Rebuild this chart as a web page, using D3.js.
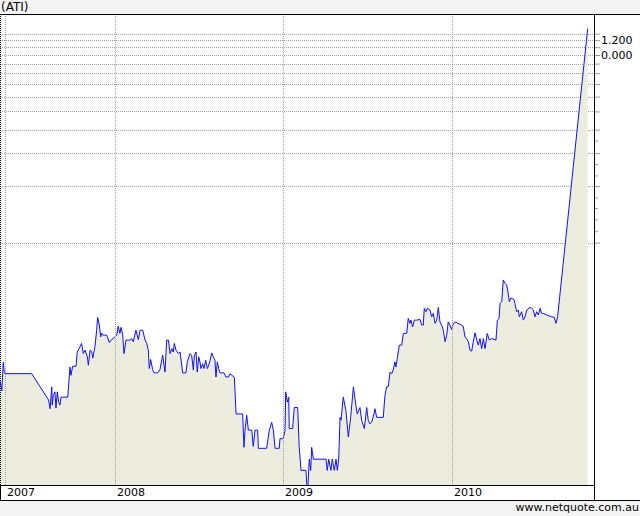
<!DOCTYPE html>
<html><head><meta charset="utf-8">
<script src="https://cdn.jsdelivr.net/npm/d3@7"></script>
<style>html,body{margin:0;padding:0;background:#f4f4f4;}svg{display:block;}</style>
</head><body>
<svg id="c" width="640" height="516"></svg>
<script>
const title = "(ATI)";
const credit = "www.netquote.com.au";
const xTickValues = [2007.35, 2008, 2009, 2010];
const xTickLabels = ["2007", "2008", "2009", "2010"];
const yGridValues = [0.1, 0.2, 0.3, 0.4, 0.5, 0.6, 0.7, 0.8, 0.9, 1.0, 1.1, 1.2, 1.3];
const yMinorTicks = [0.115, 0.133, 0.153, 0.174, 0.228, 0.262, 0.35];
const yLabelValues = [1.2, 1.0];
const yLabelTexts = ["1.200", "0.000"];

const years = [
2007.322, 2007.331, 2007.340, 2007.346, 2007.350, 2007.508, 2007.608, 2007.617, 2007.627, 2007.630,
2007.636, 2007.646, 2007.652, 2007.660, 2007.668, 2007.676, 2007.682, 2007.692, 2007.722, 2007.735,
2007.741, 2007.751, 2007.771, 2007.778, 2007.794, 2007.804, 2007.814, 2007.824, 2007.838, 2007.844,
2007.854, 2007.864, 2007.870, 2007.883, 2007.893, 2007.899, 2007.909, 2007.917, 2007.923, 2007.932,
2007.953, 2007.968, 2007.982, 2008.002, 2008.012, 2008.021, 2008.031, 2008.037, 2008.047, 2008.055,
2008.067, 2008.091, 2008.101, 2008.110, 2008.126, 2008.140, 2008.150, 2008.166, 2008.180, 2008.190,
2008.199, 2008.205, 2008.213, 2008.225, 2008.233, 2008.255, 2008.268, 2008.284, 2008.298, 2008.308,
2008.318, 2008.328, 2008.338, 2008.347, 2008.353, 2008.363, 2008.377, 2008.387, 2008.403, 2008.422,
2008.430, 2008.446, 2008.456, 2008.466, 2008.472, 2008.482, 2008.489, 2008.498, 2008.505, 2008.511,
2008.521, 2008.529, 2008.539, 2008.549, 2008.557, 2008.565, 2008.575, 2008.584, 2008.594, 2008.600,
2008.608, 2008.616, 2008.624, 2008.648, 2008.659, 2008.673, 2008.683, 2008.709, 2008.719, 2008.758,
2008.766, 2008.772, 2008.782, 2008.792, 2008.812, 2008.821, 2008.831, 2008.847, 2008.851, 2008.900,
2008.916, 2008.930, 2008.940, 2008.950, 2008.975, 2008.979, 2008.999, 2009.009, 2009.013, 2009.023,
2009.031, 2009.034, 2009.054, 2009.064, 2009.084, 2009.093, 2009.104, 2009.133, 2009.142, 2009.153,
2009.161, 2009.167, 2009.177, 2009.252, 2009.259, 2009.268, 2009.281, 2009.289, 2009.301, 2009.311,
2009.319, 2009.327, 2009.335, 2009.341, 2009.354, 2009.370, 2009.384, 2009.398, 2009.414, 2009.430,
2009.437, 2009.453, 2009.463, 2009.479, 2009.493, 2009.502, 2009.512, 2009.522, 2009.536, 2009.542,
2009.552, 2009.591, 2009.601, 2009.611, 2009.621, 2009.631, 2009.641, 2009.650, 2009.660, 2009.666,
2009.674, 2009.686, 2009.700, 2009.710, 2009.730, 2009.739, 2009.749, 2009.755, 2009.765, 2009.775,
2009.789, 2009.809, 2009.819, 2009.828, 2009.834, 2009.844, 2009.852, 2009.868, 2009.878, 2009.887,
2009.898, 2009.908, 2009.917, 2009.927, 2009.937, 2009.947, 2009.957, 2009.967, 2009.976, 2009.986,
2009.996, 2010.006, 2010.022, 2010.030, 2010.046, 2010.065, 2010.075, 2010.085, 2010.095, 2010.105,
2010.115, 2010.124, 2010.135, 2010.145, 2010.154, 2010.164, 2010.174, 2010.184, 2010.194, 2010.207,
2010.219, 2010.233, 2010.259, 2010.267, 2010.277, 2010.283, 2010.293, 2010.302, 2010.312, 2010.322,
2010.328, 2010.338, 2010.346, 2010.358, 2010.366, 2010.371, 2010.381, 2010.391, 2010.397, 2010.411,
2010.421, 2010.431, 2010.441, 2010.460, 2010.470, 2010.480, 2010.490, 2010.500, 2010.510, 2010.520,
2010.530, 2010.539, 2010.559, 2010.589, 2010.604, 2010.614, 2010.624, 2010.802
];
const prices = [
0.0182, 0.0162, 0.0230, 0.0203, 0.0200, 0.0200, 0.0145, 0.0130, 0.0170, 0.0136,
0.0153, 0.0160, 0.0131, 0.0160, 0.0141, 0.0136, 0.0150, 0.0150, 0.0150, 0.0217,
0.0196, 0.0219, 0.0219, 0.0261, 0.0278, 0.0290, 0.0256, 0.0267, 0.0246, 0.0222,
0.0267, 0.0261, 0.0242, 0.0278, 0.0341, 0.0399, 0.0363, 0.0314, 0.0329, 0.0321,
0.0321, 0.0293, 0.0304, 0.0314, 0.0321, 0.0358, 0.0328, 0.0353, 0.0325, 0.0256,
0.0302, 0.0302, 0.0308, 0.0296, 0.0341, 0.0304, 0.0341, 0.0341, 0.0302, 0.0290,
0.0267, 0.0213, 0.0238, 0.0210, 0.0202, 0.0202, 0.0210, 0.0251, 0.0204, 0.0302,
0.0302, 0.0256, 0.0272, 0.0261, 0.0290, 0.0267, 0.0256, 0.0261, 0.0202, 0.0202,
0.0231, 0.0256, 0.0251, 0.0209, 0.0251, 0.0261, 0.0204, 0.0246, 0.0231, 0.0213,
0.0226, 0.0213, 0.0236, 0.0213, 0.0222, 0.0236, 0.0258, 0.0246, 0.0236, 0.0192,
0.0231, 0.0213, 0.0202, 0.0202, 0.0192, 0.0192, 0.0200, 0.0191, 0.0122, 0.0122,
0.0081, 0.0100, 0.0120, 0.0100, 0.0100, 0.0082, 0.0100, 0.0100, 0.0080, 0.0080,
0.0100, 0.0110, 0.0100, 0.0080, 0.0080, 0.0090, 0.0090, 0.0100, 0.0160, 0.0141,
0.0150, 0.0102, 0.0102, 0.0132, 0.0132, 0.0081, 0.0061, 0.0061, 0.0045, 0.0070,
0.0061, 0.0081, 0.0070, 0.0070, 0.0061, 0.0070, 0.0061, 0.0070, 0.0061, 0.0070,
0.0061, 0.0070, 0.0117, 0.0113, 0.0150, 0.0127, 0.0092, 0.0117, 0.0170, 0.0133,
0.0122, 0.0132, 0.0113, 0.0102, 0.0132, 0.0113, 0.0108, 0.0110, 0.0122, 0.0130,
0.0117, 0.0117, 0.0153, 0.0170, 0.0171, 0.0204, 0.0200, 0.0209, 0.0231, 0.0217,
0.0241, 0.0284, 0.0284, 0.0328, 0.0328, 0.0394, 0.0371, 0.0386, 0.0355, 0.0386,
0.0386, 0.0389, 0.0363, 0.0363, 0.0446, 0.0428, 0.0446, 0.0437, 0.0402, 0.0419,
0.0371, 0.0386, 0.0451, 0.0378, 0.0363, 0.0341, 0.0296, 0.0321, 0.0378, 0.0363,
0.0344, 0.0371, 0.0378, 0.0371, 0.0367, 0.0358, 0.0314, 0.0308, 0.0296, 0.0267,
0.0264, 0.0296, 0.0330, 0.0302, 0.0284, 0.0308, 0.0272, 0.0308, 0.0272, 0.0328,
0.0302, 0.0308, 0.0302, 0.0386, 0.0394, 0.0474, 0.0484, 0.0632, 0.0607, 0.0594,
0.0559, 0.0484, 0.0504, 0.0504, 0.0494, 0.0474, 0.0428, 0.0437, 0.0402, 0.0428,
0.0386, 0.0402, 0.0437, 0.0451, 0.0446, 0.0437, 0.0402, 0.0428, 0.0411, 0.0446,
0.0419, 0.0419, 0.0411, 0.0402, 0.0399, 0.0371, 0.0402, 1.38
];

const data = d3.zip(years, prices);
const W = 640, H = 516;
const plot = {left: 0, right: 594, top: 14, bottom: 485};
const x = d3.scaleLinear().domain([2007.3205, 2010.8395]).range([plot.left, plot.right]);
const y = d3.scaleLog().domain([0.0051, 1.654]).range([plot.bottom, plot.top]);
const font = "'DejaVu Sans', Verdana, sans-serif";
const svg = d3.select("#c");

svg.append("rect").attr("width", W).attr("height", H).attr("fill", "#f4f4f4");
svg.append("rect").attr("x", 0).attr("y", plot.top).attr("width", W).attr("height", 500 - plot.top).attr("fill", "#ffffff");

svg.append("defs").append("clipPath").attr("id", "clip")
  .append("rect").attr("x", plot.left).attr("y", plot.top)
  .attr("width", plot.right - plot.left).attr("height", plot.bottom - plot.top);

// horizontal gridlines
svg.append("g").selectAll("line").data(yGridValues).join("line")
  .attr("x1", plot.left).attr("x2", plot.right)
  .attr("y1", d => Math.round(y(d)) + 0.5).attr("y2", d => Math.round(y(d)) + 0.5)
  .attr("stroke", "#a0a0a0").attr("stroke-dasharray", "1,1");

const g = svg.append("g").attr("clip-path", "url(#clip)");
g.append("path").datum(data)
  .attr("d", d3.area().x(d => x(d[0])).y0(plot.bottom).y1(d => y(d[1])))
  .attr("fill", "#ececdf");

// vertical gridlines
svg.append("g").selectAll("line").data(xTickValues).join("line")
  .attr("x1", d => Math.round(x(d)) + 0.5).attr("x2", d => Math.round(x(d)) + 0.5)
  .attr("y1", plot.top).attr("y2", plot.bottom)
  .attr("stroke", "#a0a0a0").attr("stroke-dasharray", "1,1");

g.append("path").datum(data)
  .attr("d", d3.line().x(d => x(d[0])).y(d => y(d[1])))
  .attr("fill", "none").attr("stroke", "#1010ff").attr("stroke-width", 1);

// right axis: major and minor ticks
const axMajor = svg.append("g").attr("transform", `translate(${plot.right},0)`)
  .call(d3.axisRight(y).tickValues(yGridValues).tickSize(6).tickFormat(""));
axMajor.select(".domain").remove();
axMajor.selectAll("line").attr("stroke", "#999999");
const axMinor = svg.append("g").attr("transform", `translate(${plot.right},0)`)
  .call(d3.axisRight(y).tickValues(yMinorTicks).tickSize(4).tickFormat(""));
axMinor.select(".domain").remove();
axMinor.selectAll("line").attr("stroke", "#999999");

svg.append("g").selectAll("text").data(yLabelValues).join("text")
  .attr("x", 601).attr("y", d => y(d)).attr("dy", "0.36em")
  .attr("font-family", font).attr("font-size", 11).attr("fill", "#000")
  .text((d, i) => yLabelTexts[i]);

// x labels
svg.append("g").selectAll("text").data(xTickValues).join("text")
  .attr("x", d => Math.round(x(d)) + 2).attr("y", 496)
  .attr("font-family", font).attr("font-size", 11).attr("fill", "#000")
  .text((d, i) => xTickLabels[i]);

// frame
const frame = svg.append("g").attr("stroke", "#000").attr("fill", "none");
frame.append("line").attr("x1", 0).attr("x2", W).attr("y1", 14.5).attr("y2", 14.5);
frame.append("line").attr("x1", 0).attr("x2", plot.right).attr("y1", 485.5).attr("y2", 485.5);
frame.append("line").attr("x1", 0).attr("x2", W).attr("y1", 500.5).attr("y2", 500.5);
frame.append("line").attr("x1", 594.5).attr("x2", 594.5).attr("y1", 14).attr("y2", 501);
frame.append("line").attr("x1", 0.5).attr("x2", 0.5).attr("y1", 14).attr("y2", 485).attr("stroke-dasharray", "1,1");
frame.append("line").attr("x1", 0.5).attr("x2", 0.5).attr("y1", 485).attr("y2", 501);

svg.append("text").attr("x", 1).attr("y", 11).attr("font-family", font).attr("font-size", 12)
  .attr("fill", "#000").text(title);
svg.append("text").attr("x", 639).attr("y", 511).attr("text-anchor", "end")
  .attr("font-family", font).attr("font-size", 11).attr("fill", "#000").text(credit);
</script>
</body></html>
